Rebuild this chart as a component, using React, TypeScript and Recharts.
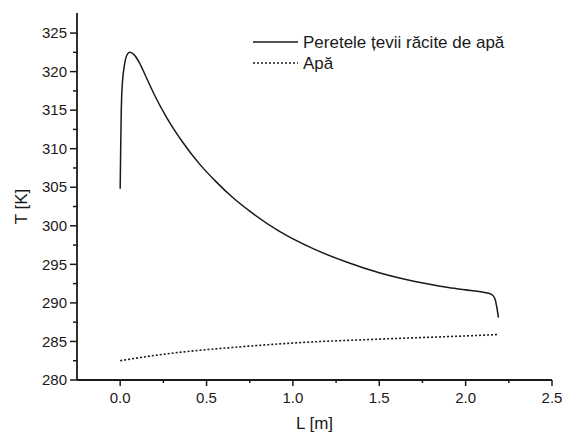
import React from "react";
import { LineChart, Line, XAxis, YAxis, Legend, Label } from "recharts";

// Peretele țevii răcite de apă (solid)
const wallL = [0, 0.003, 0.006, 0.01, 0.023, 0.043, 0.056, 0.08, 0.11, 0.15, 0.2, 0.265, 0.36, 0.46, 0.556, 0.65, 0.75, 0.92, 1.12, 1.31, 1.5, 1.7, 1.9, 2.03, 2.11, 2.15, 2.17, 2.18, 2.19];
const wallT = [304.8, 310.2, 314.5, 317.5, 320.6, 322.3, 322.5, 322.2, 321.2, 319.3, 316.9, 314.2, 310.9, 308.0, 305.7, 303.7, 301.9, 299.3, 297.0, 295.3, 293.9, 292.8, 292.0, 291.6, 291.35, 291.1, 290.5, 289.5, 288.1];

// Apă (dotted)
const waterL = [0, 0.27, 0.46, 0.75, 1.04, 1.5, 2.09, 2.19];
const waterT = [282.5, 283.4, 283.85, 284.4, 284.85, 285.3, 285.8, 285.9];

const xTicks = [0, 0.25, 0.5, 0.75, 1, 1.25, 1.5, 1.75, 2, 2.25, 2.5];
const yTicks = [280, 282.5, 285, 287.5, 290, 292.5, 295, 297.5, 300, 302.5, 305, 307.5, 310, 312.5, 315, 317.5, 320, 322.5, 325];
const xDomain = [-0.25, 2.5];
const yDomain = [280, 327.6];

const seriesNames = ["Peretele țevii răcite de apă", "Apă"];

const wallData = wallL.map((L, i) => ({ L, T: wallT[i] }));
const waterData = waterL.map((L, i) => ({ L, T: waterT[i] }));

const FONT = "'Liberation Sans', Arial, sans-serif";
const INK = "#1a1a1a";

const XTick = (props: any) => {
  const { x, y, payload } = props;
  const v = payload.value;
  const major = Math.abs(v * 2 - Math.round(v * 2)) < 1e-6;
  return (
    <g>
      <line x1={x} x2={x} y1={y} y2={y + (major ? 6 : 3)} stroke={INK} strokeWidth={1.5} />
      {major && (
        <text x={x} y={y + 23} textAnchor="middle" fontSize={15} fontFamily={FONT} fill={INK}>
          {v.toFixed(1)}
        </text>
      )}
    </g>
  );
};

const YTick = (props: any) => {
  const { x, y, payload } = props;
  const v = payload.value;
  const major = Math.abs(v / 5 - Math.round(v / 5)) < 1e-6;
  return (
    <g>
      <line x1={x} x2={x - (major ? 7 : 4)} y1={y} y2={y} stroke={INK} strokeWidth={1.5} />
      {major && (
        <text x={x - 10} y={y} dy="0.35em" textAnchor="end" fontSize={15} fontFamily={FONT} fill={INK}>
          {v}
        </text>
      )}
    </g>
  );
};

const LegendContent = () => (
  <svg width={300} height={60} style={{ display: "block" }}>
    <line x1={5} x2={50} y1={14} y2={14} stroke={INK} strokeWidth={1.5} />
    <text x={55} y={20} fontSize={17} fontFamily={FONT} fill={INK}>{seriesNames[0]}</text>
    <line x1={5} x2={50} y1={35} y2={35} stroke={INK} strokeWidth={1.5} strokeDasharray="2 2" />
    <text x={55} y={41} fontSize={17} fontFamily={FONT} fill={INK}>{seriesNames[1]}</text>
  </svg>
);

export default function App() {
  return (
    <div>
      <style>{`body { margin: 0; overflow: hidden; } svg.recharts-surface { overflow: visible; }`}</style>
      <LineChart width={562} height={435} margin={{ top: 13, right: 10, left: 0, bottom: 0 }}>
        <XAxis
          dataKey="L"
          type="number"
          domain={xDomain}
          ticks={xTicks}
          interval={0}
          allowDataOverflow
          tick={<XTick />}
          tickLine={false}
          tickSize={0}
          tickMargin={0}
          height={55}
          axisLine={{ stroke: INK, strokeWidth: 1.8 }}
        >
          <Label
            content={(p: any) => {
              const vb = p.viewBox;
              return (
                <text x={vb.x + vb.width / 2} y={vb.y + 49} textAnchor="middle" fontSize={17} fontFamily={FONT} fill={INK}>
                  L [m]
                </text>
              );
            }}
          />
        </XAxis>
        <XAxis xAxisId="top" orientation="top" type="number" domain={xDomain} height={0} tick={false} tickLine={false} axisLine={{ stroke: INK, strokeWidth: 1.8 }} />
        <YAxis
          type="number"
          domain={yDomain}
          ticks={yTicks}
          interval={0}
          allowDataOverflow
          tick={<YTick />}
          tickLine={false}
          tickSize={0}
          tickMargin={0}
          width={77}
          axisLine={{ stroke: INK, strokeWidth: 1.8 }}
        >
          <Label
            content={(p: any) => {
              const vb = p.viewBox;
              const cx = 21;
              const cy = vb.y + vb.height / 2 + 10;
              return (
                <text x={cx} y={cy} transform={`rotate(-90 ${cx} ${cy})`} textAnchor="middle" dy="0.35em" fontSize={17} fontFamily={FONT} fill={INK}>
                  T [K]
                </text>
              );
            }}
          />
        </YAxis>
        <YAxis yAxisId="right" orientation="right" type="number" domain={yDomain} width={0} tick={false} tickLine={false} axisLine={{ stroke: INK, strokeWidth: 1.8 }} />
        <Legend
          layout="vertical"
          align="center"
          verticalAlign="middle"
          content={<LegendContent />}
          wrapperStyle={{ left: 248, top: 28, width: 300, height: 60 }}
        />
        <Line
          data={wallData}
          dataKey="T"
          name={seriesNames[0]}
          type="monotone"
          stroke={INK}
          strokeWidth={1.5}
          dot={false}
          isAnimationActive={false}
        />
        <Line
          data={waterData}
          dataKey="T"
          name={seriesNames[1]}
          type="monotone"
          stroke={INK}
          strokeWidth={1.6}
          strokeDasharray="2 2"
          dot={false}
          isAnimationActive={false}
        />
      </LineChart>
    </div>
  );
}
